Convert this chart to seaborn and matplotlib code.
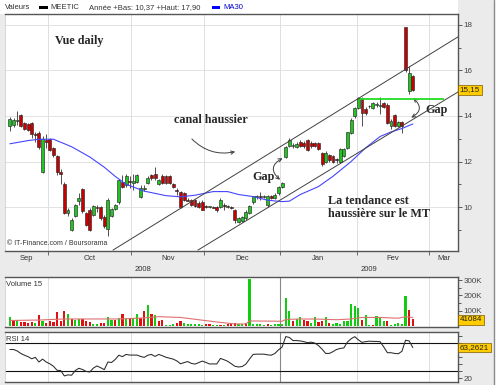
import numpy as np
import pandas as pd
import matplotlib
matplotlib.use("Agg")
import matplotlib.pyplot as plt
import matplotlib.transforms as mtransforms
from matplotlib.patches import Rectangle
from matplotlib.lines import Line2D
import seaborn as sns

# ---- data (MEETIC daily, Sep 2008 - Feb 2009) ----
holidays = pd.to_datetime(["2008-12-25", "2008-12-26", "2009-01-01"])
dates = pd.bdate_range("2008-09-16", "2009-02-23")
dates = dates[~dates.isin(holidays)]

opens = [13.55, 13.62, 13.78, 14.05, 13.70, 13.65, 13.70, 13.20, 13.25, 11.55, 12.95,
         12.98, 12.58, 12.25, 11.56, 11.02, 9.74, 9.00, 9.62, 10.26, 10.79, 9.74, 9.85,
         9.66, 9.99, 9.99, 9.56, 9.05, 9.60, 9.93, 10.22, 11.10, 10.97, 11.15,
         11.04, 11.10, 10.45, 10.80, 11.04, 11.40, 11.45, 11.01, 11.36, 11.36, 11.36,
         11.00, 10.72, 10.66, 10.60, 10.32, 10.30, 10.30, 10.20, 10.23,
         10.02, 10.00, 10.00, 10.00, 10.00, 10.05, 10.00, 10.00, 9.88, 9.35, 9.40,
         9.52, 9.74, 10.22, 10.45, 10.48, 10.45, 10.10, 10.50, 10.40, 10.60,
         10.88, 12.20, 12.70, 12.70, 12.64, 12.85, 12.82, 12.96, 12.82, 12.80, 12.80,
         12.38, 12.00, 12.30, 12.25, 12.05, 12.00, 12.23, 12.60, 13.26, 13.98,
         14.35, 14.79, 14.30, 14.42, 14.35, 14.48, 14.45, 14.57, 14.50, 13.55, 14.06,
         13.58, 13.75, 17.90, 15.08, 15.77]
highs = [13.95, 13.90, 14.20, 14.10, 13.75, 13.70, 13.75, 13.30, 13.35, 13.10, 13.20,
         13.05, 12.65, 12.30, 11.65, 11.10, 9.98, 9.50, 10.15, 10.60, 10.85, 9.80, 9.95,
         10.10, 10.10, 10.05, 9.65, 10.40, 9.95, 10.15, 11.25, 11.40, 11.45, 11.35,
         11.45, 11.45, 10.95, 10.95, 11.35, 11.45, 11.75, 11.25, 11.45, 11.40, 11.40,
         11.05, 10.85, 10.70, 10.65, 10.40, 10.35, 10.35, 10.25, 10.30,
         10.10, 10.05, 10.05, 10.05, 10.40, 10.20, 10.08, 10.05, 9.92, 9.55, 9.60,
         9.85, 10.10, 10.50, 10.55, 10.68, 10.55, 10.55, 10.55, 10.60, 10.92,
         11.10, 12.70, 13.03, 12.80, 12.85, 12.95, 12.90, 13.00, 12.90, 12.85, 12.85,
         12.40, 12.45, 12.35, 12.30, 12.15, 12.58, 12.60, 13.30, 13.90, 14.40,
         14.82, 14.82, 14.40, 14.50, 14.62, 14.60, 14.85, 14.62, 14.55, 13.85, 14.10,
         13.78, 13.80, 17.90, 16.20, 15.80]
lows = [13.35, 13.50, 13.60, 13.50, 13.40, 13.35, 13.05, 12.85, 12.55, 11.50, 12.60,
        12.45, 12.20, 11.40, 11.00, 9.70, 9.60, 8.95, 9.55, 10.10, 9.75, 9.15, 8.95,
        9.60, 9.80, 9.45, 9.10, 8.72, 9.55, 9.85, 10.15, 10.85, 10.90, 10.85,
        10.75, 11.05, 10.40, 10.70, 11.00, 11.20, 11.20, 10.95, 11.00, 11.00, 11.00,
        10.85, 10.55, 9.95, 10.25, 10.25, 10.05, 10.00, 9.95, 9.85,
        9.95, 9.95, 9.95, 9.80, 9.95, 9.85, 9.95, 9.90, 9.30, 9.30, 9.35,
        9.45, 9.70, 10.15, 10.35, 10.30, 10.40, 10.00, 10.35, 10.35, 10.55,
        10.85, 12.15, 12.65, 12.60, 12.60, 12.65, 12.60, 12.45, 12.60, 12.65, 12.50,
        11.80, 11.95, 12.00, 11.95, 11.95, 11.95, 12.20, 12.55, 13.20, 13.90,
        14.30, 13.55, 14.05, 14.35, 14.30, 14.40, 14.10, 14.35, 13.65, 13.45, 13.50,
        13.50, 13.25, 15.95, 14.95, 15.10]
closes = [13.85, 13.82, 13.82, 13.55, 13.45, 13.40, 13.20, 13.15, 12.65, 13.00, 12.85,
          12.51, 12.29, 11.52, 11.46, 9.74, 9.88, 9.42, 10.10, 10.38, 9.81, 9.23, 9.00,
          10.06, 9.97, 9.52, 9.15, 10.30, 9.90, 10.07, 11.19, 10.90, 11.36, 11.10,
          11.16, 11.40, 10.82, 10.82, 11.26, 11.26, 11.26, 11.19, 11.04, 11.04, 11.04,
          10.90, 10.70, 10.00, 10.30, 10.28, 10.10, 10.05, 10.00, 9.87,
          10.00, 10.02, 9.98, 9.87, 10.30, 10.03, 10.02, 9.95, 9.45, 9.50, 9.55,
          9.80, 10.03, 10.47, 10.47, 10.46, 10.47, 10.50, 10.40, 10.55, 10.88,
          11.05, 12.65, 12.96, 12.72, 12.79, 12.70, 12.68, 12.50, 12.68, 12.70, 12.55,
          11.91, 12.38, 12.08, 12.00, 12.06, 12.53, 12.55, 13.28, 13.84, 14.35,
          14.79, 14.13, 14.13, 14.45, 14.57, 14.50, 14.47, 14.40, 13.70, 13.80, 13.58,
          13.72, 13.58, 16.03, 15.91, 15.15]

volumes_k = [55, 39, 39, 27, 27, 16, 27, 16, 73, 32,
             16, 32, 27, 91, 32, 95, 80, 43, 39, 43,
             43, 32, 27, 11, 11, 20, 20, 55, 39, 39,
             50, 80, 43, 43, 50, 80, 50, 95, 136, 80,
             68, 32, 39, 5, 5, 11, 20, 32, 16, 11,
             11, 9, 9, 5, 11, 11, 5, 5, 5, 5,
             11, 20, 16, 9, 11, 16, 307, 11, 11, 11,
             5, 9, 5, 11, 11, 11, 186, 95, 32, 43,
             61, 39, 32, 16, 55, 27, 32, 55, 16, 11,
             16, 11, 32, 32, 141, 130, 118, 39, 73, 5,
             5, 66, 50, 32, 32, 5, 11, 16, 11, 198,
             107, 43]
vol_dir = ("GRGRRRRGRG" "RRRRRRGRGG" "RRRGGRRGGR" "GRGRGGRRGR" "GRRGGGRRGG"
           "GGGGRRGGRG" "RRRGGRGGGG" "GRGGGGGGRG" "GRRGGRRGRG" "GGGGGGGRGG"
           "RGGGRGGGGG" "RR")

ma30_idx = [0, 5, 8, 12, 17, 22, 26, 29, 32, 37, 43, 47, 51, 56, 60, 63, 67, 71,
            75, 77, 80, 85, 89, 94, 98, 102, 105, 108, 111]
ma30_val = [12.78, 12.92, 12.98, 12.98, 12.65, 12.2, 11.75, 11.35, 11.0, 10.7, 10.5,
            10.45, 10.52, 10.68, 10.68, 10.55, 10.46, 10.3, 10.24, 10.26, 10.55, 10.9,
            11.35, 12.0, 12.6, 13.1, 13.3, 13.45, 13.65]

volma_idx = [0, 8, 15, 22, 30, 37, 41, 47, 52, 57, 62, 65, 66, 75, 76, 80, 85, 90,
             94, 97, 102, 107, 109, 111]
volma_k = [35, 38, 45, 45, 45, 52, 60, 55, 40, 25, 12, 12, 32, 30, 42, 45, 44, 40,
           45, 55, 55, 50, 60, 55]

rsi = [60.5, 60.5, 58.5, 55, 52.5, 50.5, 47.5, 49.5, 43, 47,
       43, 40.5, 37, 31.4, 31, 23.5, 25, 24.5, 31, 34.2,
       32.5, 29.8, 29, 34.5, 37.5, 35, 32.3, 43, 42.3, 46.5,
       52.5, 50.5, 53.6, 52.7, 52.7, 52.7, 50.8, 49.5, 52.5, 53.6,
       50.8, 53.6, 51.8, 49.6, 48.3, 47, 44.5, 40.5, 42.2, 43.6,
       41, 40.1, 42.1, 44.3, 42.4, 40.2, 40.4, 40.2, 48, 46.2,
       44, 40.5, 37, 36, 36.7, 40, 47, 53.6, 54, 54,
       54, 53, 52.5, 55, 60, 64, 78.6, 77.3, 73, 73,
       72.5, 71.5, 70, 70.8, 69.5, 66, 61, 55, 55, 57.5,
       60.5, 62, 62.7, 71, 75.5, 78.5, 74, 70.5, 71.5, 72.2,
       71.8, 71.8, 71.4, 64, 56, 56, 55, 54.5, 58, 73.5,
       72.5, 63.26]

month_names = ["Sep", "Oct", "Nov", "Dec", "Jan", "Fev", "Mar"]
last_price = "15,15"
last_volume = "41084"
last_rsi = "63,2621"

# hand-drawn annotations on the original chart (data units)
upper_channel = ([28.4, 123.4], [8.11, 17.47])
lower_channel = ([51.8, 123.4], [8.11, 15.05])
resistance = (14.73, 96.4, 119.5)

# ---- style ----
sns.set_theme(style="white")
plt.rcParams["font.family"] = ["Liberation Sans", "DejaVu Sans"]
serif = dict(family=["Liberation Serif", "DejaVu Serif"], fontweight="bold", fontsize=8.7)

W, H = 499, 385
fig = plt.figure(figsize=(W / 100, H / 100), dpi=100, facecolor="#ebebeb")


def box(px0, py0, px1, py1):
    return [px0 / W, 1 - py1 / H, (px1 - px0) / W, (py1 - py0) / H]


ax = fig.add_axes(box(5, 14, 458, 251))
ax_v = fig.add_axes(box(5, 277, 458, 327))
ax_r = fig.add_axes(box(5, 332, 458, 382))

x = np.arange(len(dates))
o, hi, lo, c = map(np.array, (opens, highs, lows, closes))
xlim = (-1.35, 123.45)

axis_days = pd.bdate_range("2008-09-16", "2009-04-30")
axis_days = axis_days[~axis_days.isin(holidays)]
bounds = [i - 0.5 for i in range(1, len(axis_days))
          if axis_days[i].month != axis_days[i - 1].month]
bounds = [b for b in bounds if b < xlim[1]]
year_bound = bounds[3]

for a in (ax, ax_v, ax_r):
    a.set_facecolor("white")
    a.set_xlim(*xlim)
    for s in ("top", "right", "bottom"):
        a.spines[s].set_color("#555555")
        a.spines[s].set_linewidth(1.0)
    a.spines["left"].set_color("#d0d0d0")
    a.spines["left"].set_linewidth(0.6)
    for b in bounds:
        a.axvline(b, color="#dedede", lw=0.7, zorder=0)
    a.yaxis.tick_right()
    a.tick_params(axis="y", which="both", direction="out", length=3, width=0.6,
                  colors="#444444", labelsize=5.8, pad=1.2, right=True, left=False)
    a.tick_params(axis="y", which="minor", length=2)

# ---- price panel ----
for p in range(10, 19, 2):
    ax.axhline(p, color="#e2e2e2", lw=0.7, zorder=0)

ax.vlines(x, lo, hi, color="#333333", lw=0.6, zorder=2)
body_col = np.where(c > o + 0.01, "#22c422", np.where(c < o - 0.01, "#c80000", "#222222"))
ax.bar(x, np.maximum(np.abs(c - o), 0.04), bottom=np.minimum(o, c), width=0.8,
       color=body_col, edgecolor="#2a2a2a", linewidth=0.45, zorder=3)

sns.lineplot(x=ma30_idx, y=ma30_val, ax=ax, color="#4646ff", lw=0.8, zorder=4)

ax.plot(*upper_channel, color="#404040", lw=0.7, zorder=4)
ax.plot(*lower_channel, color="#404040", lw=0.7, zorder=4)
ax.hlines(resistance[0], resistance[1], resistance[2], color="#22dd22", lw=1.3, zorder=4)

ax.set_ylim(8.07, 18.48)
ax.set_yticks(range(10, 19, 2))
ax.set_yticks(range(9, 19, 2), minor=True)
ax.set_yticklabels([str(v) for v in range(10, 19, 2)])
ax.set_xticks(bounds)
ax.set_xticklabels([])
ax.tick_params(axis="x", direction="out", length=3, width=0.6, colors="#555555", bottom=True)

tx = mtransforms.blended_transform_factory(ax.transData, ax.transAxes)
edges = [xlim[0]] + bounds + [xlim[1]]
for k, name in enumerate(month_names):
    ax.text((edges[k] + edges[k + 1]) / 2, -0.03, name, transform=tx, ha="center",
            va="center", fontsize=5.5, color="#333333")
ax.text((xlim[0] + year_bound) / 2, -0.077, "2008", transform=tx, ha="center",
        va="center", fontsize=5.5, color="#333333")
ax.text((year_bound + xlim[1]) / 2, -0.077, "2009", transform=tx, ha="center",
        va="center", fontsize=5.5, color="#333333")

ax.text(19.0, 17.3, "Vue daily", ha="center", va="center", **serif)
ax.text(55.4, 13.82, "canal haussier", ha="center", va="center", **serif)
ax.text(69.9, 11.3, "Gap", ha="center", va="center", **serif)
ax.text(117.5, 14.26, "Gap", ha="center", va="center", **serif)
ax.text(87.6, 10.26, "La tendance est", ha="left", va="center", **serif)
ax.text(87.6, 9.69, "haussière sur le MT", ha="left", va="center", **serif)
ax.text(0.004, 0.03, "© IT-Finance.com / Boursorama", transform=ax.transAxes,
        fontsize=5.0, color="#333333", ha="left", va="center")

arrow = dict(color="#404040", lw=0.7, mutation_scale=6)
ax.annotate("", xy=(62.8, 12.46), xytext=(49.6, 13.08),
            arrowprops=dict(arrowstyle="->", connectionstyle="arc3,rad=0.3", **arrow))
ax.annotate("", xy=(75.0, 11.12), xytext=(75.8, 12.2),
            arrowprops=dict(arrowstyle="<->", connectionstyle="arc3,rad=0.8", **arrow))
ax.annotate("", xy=(109.9, 13.87), xytext=(110.5, 14.86),
            arrowprops=dict(arrowstyle="<->", connectionstyle="arc3,rad=-0.8", **arrow))


def value_box(a, y, text):
    tr = mtransforms.blended_transform_factory(a.transAxes, a.transData)
    a.text(1.004, y, text, transform=tr, ha="left", va="center", fontsize=5.8,
           color="#222222", clip_on=False, zorder=10,
           bbox=dict(boxstyle="square,pad=0.18", fc="#ffcc00", ec="#7a5a00", lw=0.5))


value_box(ax, 15.15, last_price)

# ---- volume panel ----
vol = np.array(volumes_k) * 1000
vcol = ["#11cc11" if d == "G" else "#dd1111" for d in vol_dir]
ax_v.bar(x, vol, width=0.6, color=vcol, linewidth=0, zorder=2)
sns.lineplot(x=volma_idx, y=np.array(volma_k) * 1000, ax=ax_v, color="#e07070",
             lw=0.8, zorder=3)
ax_v.axvline(year_bound, color="#888888", lw=0.8, zorder=1)
ax_v.set_ylim(-8000, 322000)
ax_v.set_yticks([100000, 200000, 300000])
ax_v.set_yticklabels(["100K", "200K", "300K"])
ax_v.set_yticks([50000, 150000, 250000], minor=True)
ax_v.set_xticks([])
ax_v.text(0.003, 0.85, "Volume 15", transform=ax_v.transAxes, fontsize=5.5,
          color="#333333", ha="left", va="center")
value_box(ax_v, 41084, last_volume)

# ---- RSI panel ----
sns.lineplot(x=x, y=rsi, ax=ax_r, color="#2a2a2a", lw=0.75, zorder=3)
ax_r.axhline(70, color="#111111", lw=0.8, zorder=2)
ax_r.axhline(30, color="#111111", lw=0.8, zorder=2)
ax_r.axvline(year_bound, color="#888888", lw=0.8, zorder=1)
ax_r.set_ylim(15, 85)
ax_r.set_yticks(range(20, 90, 10))
ax_r.set_yticklabels(["20"] + [""] * 6)
ax_r.set_xticks([])
ax_r.text(0.003, 0.85, "RSI 14", transform=ax_r.transAxes, fontsize=5.5,
          color="#333333", ha="left", va="center")
value_box(ax_r, 63.2621, last_rsi)

for a in (ax, ax_v, ax_r):
    a.set_xlabel("")
    a.set_ylabel("")

# ---- header strip and frame ----
fig.add_artist(Rectangle((0, 1 - 14 / H), 458 / W, 14 / H, transform=fig.transFigure,
                         fc="white", ec="none", zorder=0))
fig.add_artist(Rectangle((494 / W, 0), 5 / W, 1, transform=fig.transFigure,
                         fc="white", ec="none", zorder=0))
fig.add_artist(Line2D([493.5 / W] * 2, [0, 1], transform=fig.transFigure,
                      color="#8a8a8a", lw=1.0))
fig.add_artist(Rectangle((39 / W, 1 - 9 / H), 9 / W, 3.5 / H, transform=fig.transFigure,
                         fc="black", ec="none"))
fig.add_artist(Rectangle((212 / W, 1 - 9 / H), 8 / W, 3.5 / H, transform=fig.transFigure,
                         fc="#0000ff", ec="none"))
hy = 1 - 7.3 / H
fig.text(5 / W, hy, "Valeurs", fontsize=5.5, color="#333333", va="center")
fig.text(50 / W, hy, "MEETIC", fontsize=5.5, color="#333333", va="center")
fig.text(89 / W, hy, "Année +Bas: 10,37 +Haut: 17,90", fontsize=5.5, color="#333333",
         va="center")
fig.text(223 / W, hy, "MA30", fontsize=5.5, color="#0000cc", va="center")

fig.savefig("out.png", dpi=100, facecolor=fig.get_facecolor())
